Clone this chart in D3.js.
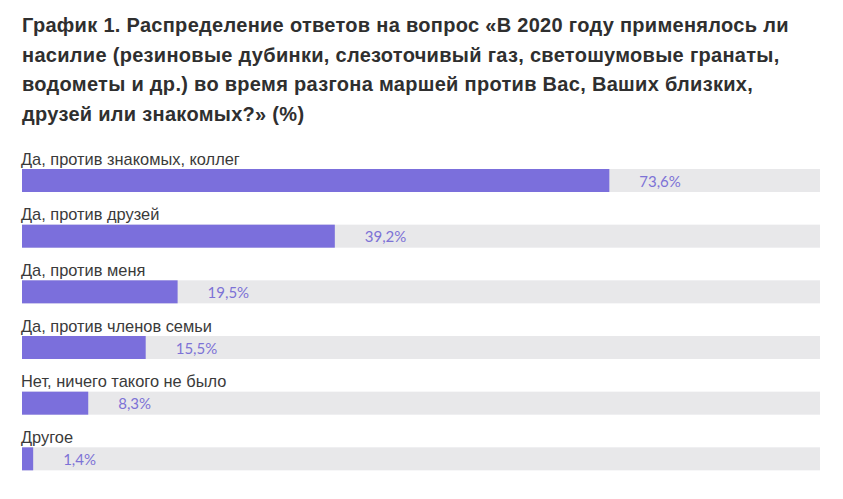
<!DOCTYPE html>
<html>
<head>
<meta charset="utf-8">
<script src="https://cdn.jsdelivr.net/npm/d3@7"></script>
<style>
  body { margin: 0; background: #fff; }
  svg { display: block; }
</style>
</head>
<body>
<svg id="chart" width="843" height="499"></svg>
<script>
const titleLines = [
  'График 1. Распределение ответов на вопрос «В 2020 году применялось ли',
  'насилие (резиновые дубинки, слезоточивый газ, светошумовые гранаты,',
  'водометы и др.) во время разгона маршей против Вас, Ваших близких,',
  'друзей или знакомых?» (%)'
];
const categories = [
  'Да, против знакомых, коллег',
  'Да, против друзей',
  'Да, против меня',
  'Да, против членов семьи',
  'Нет, ничего такого не было',
  'Другое'
];
const values = [73.6, 39.2, 19.5, 15.5, 8.3, 1.4];

const svg = d3.select('#chart');

// title
svg.append('text')
  .attr('x', 22)
  .attr('y', 32)
  .attr('font-family', 'Liberation Sans, Arial, sans-serif')
  .attr('font-weight', 'bold')
  .attr('font-size', 20)
  .attr('letter-spacing', 0.3)
  .attr('fill', '#2f2f2f')
  .selectAll('tspan')
  .data(titleLines)
  .join('tspan')
  .attr('x', 22)
  .attr('dy', (d, i) => i === 0 ? 0 : 29.6)
  .text(d => d);

const x = d3.scaleLinear().domain([0, 100]).range([22, 820]);
const y = d3.scaleBand().domain(categories).range([149, 483]).paddingInner(0).paddingOuter(0);
const barH = 23;
const barOff = 20; // bar sits below its label

const row = svg.selectAll('g.row')
  .data(categories)
  .join('g')
  .attr('class', 'row')
  .attr('transform', d => 'translate(0,' + y(d) + ')');

row.append('text')
  .attr('x', 21)
  .attr('y', 15.5)
  .attr('font-family', 'Liberation Sans, Arial, sans-serif')
  .attr('font-size', 16.4)
  .attr('fill', '#3a3a3a')
  .text(d => d);

row.append('rect')
  .attr('x', x(0))
  .attr('y', barOff)
  .attr('width', x(100) - x(0))
  .attr('height', barH)
  .attr('fill', '#e8e8ea');

row.append('rect')
  .attr('x', x(0))
  .attr('y', barOff)
  .attr('width', (d, i) => x(values[i]) - x(0))
  .attr('height', barH)
  .attr('fill', '#7b6fdc');

row.append('text')
  .attr('x', (d, i) => x(values[i]) + 30)
  .attr('y', barOff + barH / 2 + 6)
  .attr('font-family', 'Lato, sans-serif')
  .attr('font-size', 15)
  .attr('fill', '#7d72d6')
  .text((d, i) => d3.format('.1f')(values[i]).replace('.', ',') + '%');
</script>
</body>
</html>
